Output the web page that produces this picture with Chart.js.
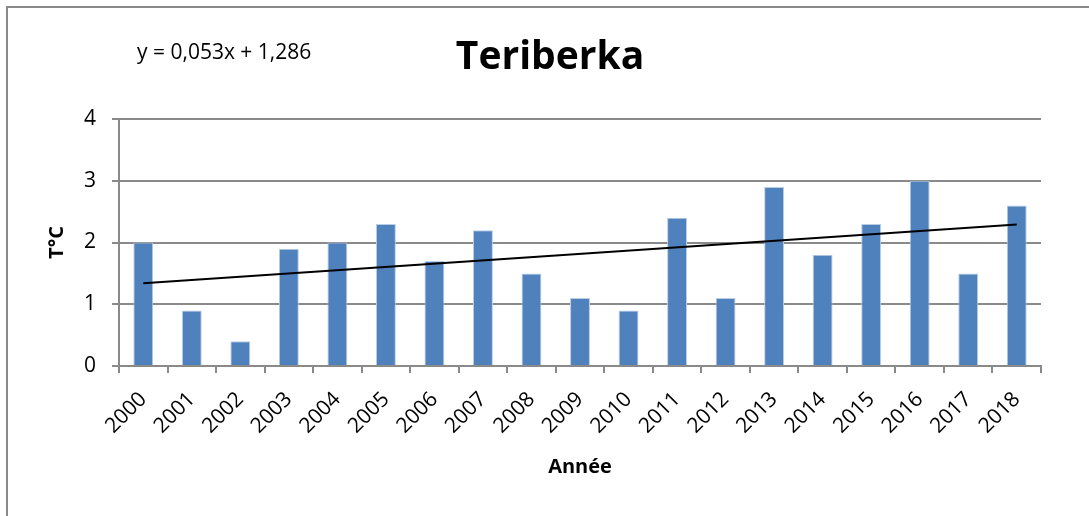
<!DOCTYPE html>
<html>
<head>
<meta charset="utf-8">
<script src="https://cdn.jsdelivr.net/npm/chart.js@4"></script>
<style>
  body { margin: 0; background: #fff; }
  #wrap { position: relative; width: 1089px; height: 516px; }
  #frame { position: absolute; left: 6px; top: 6px; width: 1100px; height: 600px;
           border-left: 2px solid #8a8a8a; border-top: 2px solid #8a8a8a; pointer-events: none; }
</style>
</head>
<body>
<div id="wrap">
  <canvas id="chart" width="1089" height="516"></canvas>
  <div id="frame"></div>
</div>
<script>
// --- Teriberka : températures annuelles ---
const titre = 'Teriberka';
const annees = ['2000', '2001', '2002', '2003', '2004', '2005', '2006', '2007', '2008', '2009',
                '2010', '2011', '2012', '2013', '2014', '2015', '2016', '2017', '2018'];
const temperatures = [2.0, 0.9, 0.4, 1.9, 2.0, 2.3, 1.7, 2.2, 1.5, 1.1,
                      0.9, 2.4, 1.1, 2.9, 1.8, 2.3, 3.0, 1.5, 2.6];
const yTicks = [0, 1, 2, 3, 4];
// courbe de tendance (équation affichée)
const pente = 0.053;
const origine = 1.286;
const equation = 'y = 0,053x + 1,286';

const tendance = annees.map((_, i) =>
  (i === 0 || i === annees.length - 1) ? pente * (i + 1) + origine : null);

const police = "'Open Sans', 'Noto Sans', sans-serif";

// titre + équation, placés comme dans Excel
const textesPlugin = {
  id: 'textes',
  afterDraw(chart) {
    const c = chart.ctx;
    c.save();
    c.fillStyle = '#000';
    c.textBaseline = 'middle';
    c.font = '21px ' + police;
    c.textAlign = 'left';
    c.fillText(equation, 137, 53);
    c.font = 'bold 39px ' + police;
    c.textAlign = 'center';
    c.fillText(titre, 550, 58);
    c.restore();
  }
};

const ctx = document.getElementById('chart').getContext('2d');

new Chart(ctx, {
  type: 'bar',
  data: {
    labels: annees,
    datasets: [{
      type: 'line',
      data: tendance,
      borderColor: '#000',
      borderWidth: 2,
      pointRadius: 0,
      spanGaps: true,
      order: 0
    }, {
      label: 'T°C',
      data: temperatures,
      backgroundColor: '#4f81bd',
      borderColor: '#b9cde5',
      borderWidth: { top: 1, left: 1, right: 1, bottom: 0 },
      categoryPercentage: 1,
      barPercentage: 0.41,
      order: 1
    }]
  },
  options: {
    responsive: false,
    animation: false,
    plugins: {
      legend: { display: false },
      tooltip: { enabled: false },
      title: { display: false }
    },
    layout: { padding: { left: 0, right: 48, top: 119, bottom: 0 } },
    scales: {
      x: {
        afterFit(s) { s.height = 150; },
        grid: { drawOnChartArea: false, offset: true, color: '#8a8a8a', lineWidth: 2, tickLength: 7 },
        border: { color: '#8a8a8a', width: 2 },
        ticks: { color: '#000', maxRotation: 45, minRotation: 45, padding: 14,
                 font: { family: police, size: 21 } },
        title: { display: true, text: 'Année', color: '#000', padding: { top: 0, bottom: 37 },
                 font: { family: police, size: 20, weight: 'bold', lineHeight: 1.2 } }
      },
      y: {
        min: 0,
        max: 4,
        afterFit(s) { s.width = 119; },
        afterBuildTicks(s) { s.ticks = yTicks.map(v => ({ value: v })); },
        grid: { color: '#8a8a8a', lineWidth: 2, tickLength: 7 },
        border: { color: '#8a8a8a', width: 2 },
        ticks: { color: '#000', padding: 16, font: { family: police, size: 21 } },
        title: { display: true, text: 'T°C', color: '#000', padding: { top: 45, bottom: 0 },
                 font: { family: police, size: 20, weight: 'bold', lineHeight: 1.2 } }
      }
    }
  },
  plugins: [textesPlugin]
});
</script>
</body>
</html>
